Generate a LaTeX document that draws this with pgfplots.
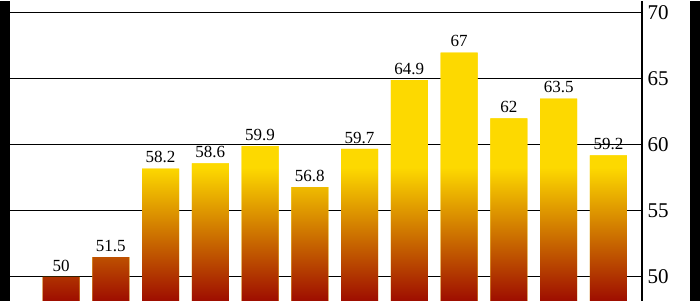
\documentclass[border=0pt]{standalone}
\usepackage{pgfplots}
\pgfplotsset{compat=1.18}
\usepackage{fontspec}
\setmainfont{Liberation Serif}
\definecolor{barred}{HTML}{9E0D00}
\definecolor{baryellow}{HTML}{FDD900}
\pgfdeclareverticalshading{barshade}{760pt}{color(0pt)=(barred); color(133.6pt)=(baryellow); color(320pt)=(baryellow)}
\pgfplotstableread{
x y
0 50
1 51.5
2 58.2
3 58.6
4 59.9
5 56.8
6 59.7
7 64.9
8 67
9 62
10 63.5
11 59.2
}\bardata
\begin{document}
\begin{tikzpicture}
\fill[black] (0pt,0pt) rectangle (10pt,300pt);
\fill[black] (690pt,0pt) rectangle (700pt,300pt);
\begin{axis}[
  at={(10pt,0pt)}, anchor=south west,
  scale only axis, width=632pt, height=300pt,
  xmin=-1.025, xmax=11.675, ymin=48.18, ymax=70.91,
  axis x line=none,
  axis y line=right,
  y axis line style={line width=1.8pt, -},
  ytick={50,55,60,65,70},
  ymajorgrids,
  grid style={black, line width=1.1pt},
  major tick length=0pt,
  yticklabel style={font=\fontsize{21}{21}\selectfont, xshift=2pt},
  /pgf/number format/assume math mode=true,
  ybar, bar width=37pt, bar shift=0pt,
]
\addplot[draw=none, fill=baryellow,
  path picture={%
    \pgftext[left,bottom,at={\pgfplotspointaxisxy{-1.5}{48.18}}]{\pgfuseshading{barshade}}%
  }] table[x=x,y=y] {\bardata};
\addplot[draw=none, fill=none,
  nodes near coords,
  nodes near coords style={font=\fontsize{17}{17}\selectfont, text=black, yshift=2pt},
  ] table[x=x,y=y] {\bardata};
\end{axis}
\end{tikzpicture}
\end{document}
